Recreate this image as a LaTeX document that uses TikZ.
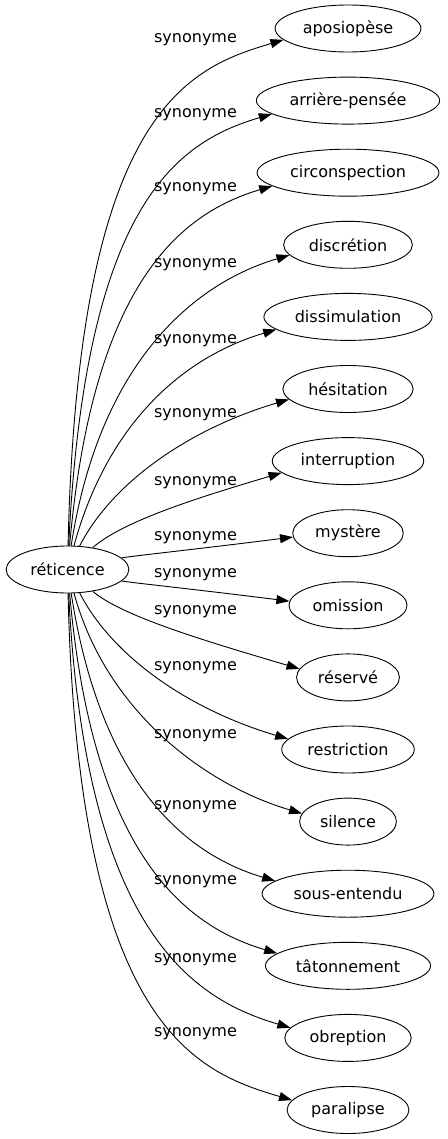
\documentclass[tikz,border=0pt]{standalone}
\usepackage{fontspec}
\setmainfont{DejaVu Sans}
\usetikzlibrary{calc,arrows.meta,shapes.geometric}

\begin{document}
\begin{tikzpicture}[x=1pt,y=1pt,
  word/.style={draw,ellipse,minimum height=47pt,inner xsep=6.3pt,line width=0.9pt,
    font=\fontsize{16pt}{19pt}\selectfont},
  rel/.style={inner sep=0pt,font=\fontsize{16pt}{19pt}\selectfont},
  syn/.style={line width=0.9pt,-{Triangle[length=13pt,width=9pt]}}]
\useasboundingbox (0,0) rectangle (447,-1139);

\node[word] (ret) at (67.5,-569.5) {réticence};

\foreach \i/\w/\ly in {1/aposiopèse/40, 2/arrière-pensée/115, 3/circonspection/189,
  4/discrétion/265, 5/dissimulation/341, 6/hésitation/415, 7/interruption/483,
  8/mystère/538, 9/omission/575, 10/réservé/612, 11/restriction/668,
  12/silence/736, 13/sous-entendu/807, 14/tâtonnement/882, 15/obreption/960,
  16/paralipse/1034}{
  \pgfmathsetmacro\ty{-(28.5+72.1*(\i-1))}
  \pgfmathsetmacro\dd{\ty+569.5}
  \pgfmathsetmacro\uu{abs(\dd)/541}
  \pgfmathtruncatemacro\ang{180+(\dd)/abs(\dd)*(4+6*(\uu>0.1))}
  \pgfmathsetmacro\oy{0-(\dd)/abs(\dd)*(12+16*(\uu>0.1))}
  \pgfmathsetmacro\cx{132-54*\uu}
  \pgfmathsetmacro\cy{-569.5+(0.325+0.525*\uu)*(\dd)}
  \node[word] (syn\i) at (348,\ty) {\w};
  \node[rel] (lab\i) at (195.5,-\ly) {synonyme};
  \draw[syn] (ret) .. controls (\cx,\cy) and ($(syn\i.\ang)+(-95,\oy)$) .. (syn\i.\ang);
}
\end{tikzpicture}
\end{document}
